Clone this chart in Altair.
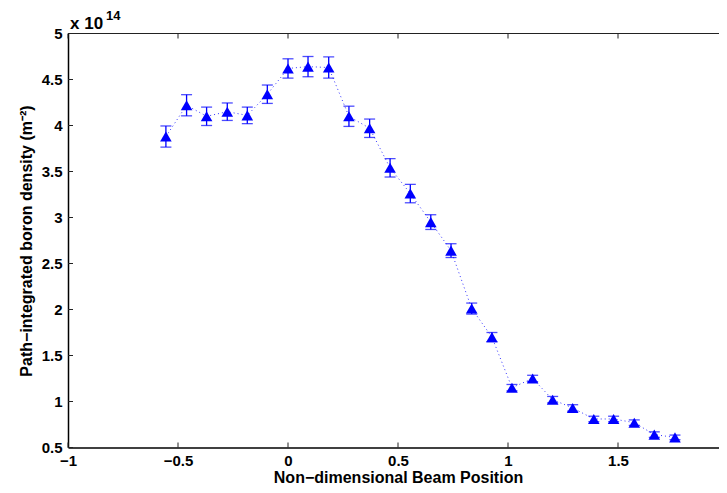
import altair as alt
import pandas as pd

# Data (density in units of 1e14 m^-2)
beam_pos = [-0.555, -0.461, -0.370, -0.276, -0.185, -0.094, 0.000, 0.091, 0.185,
            0.277, 0.371, 0.464, 0.556, 0.649, 0.741, 0.835, 0.927, 1.018, 1.112,
            1.203, 1.294, 1.390, 1.480, 1.574, 1.665, 1.759]
density = [3.88, 4.22, 4.10, 4.15, 4.11, 4.34, 4.62, 4.64, 4.63, 4.10, 3.97, 3.54,
           3.26, 2.95, 2.64, 2.01, 1.70, 1.15, 1.25, 1.02, 0.93, 0.81, 0.81, 0.77,
           0.64, 0.61]
err = [0.115, 0.115, 0.10, 0.095, 0.09, 0.10, 0.105, 0.11, 0.115, 0.11, 0.10, 0.10,
       0.10, 0.08, 0.075, 0.06, 0.05, 0.035, 0.035, 0.035, 0.035, 0.03, 0.03, 0.03,
       0.03, 0.025]
x_ticks = [-1, -0.5, 0, 0.5, 1, 1.5, 2]
y_ticks = [0.5, 1, 1.5, 2, 2.5, 3, 3.5, 4, 4.5, 5]

W, H = 660, 414
FONT = "Liberation Sans"
BLUE = "#0000FF"

df = pd.DataFrame({"x": beam_pos, "y": density, "e": err})
df["lo"] = df["y"] - df["e"]
df["hi"] = df["y"] + df["e"]

xs = alt.Scale(domain=[-1, 2], nice=False, zero=False)
ys = alt.Scale(domain=[0.5, 5], nice=False, zero=False)

base = alt.Chart(df)

line = base.mark_line(color=BLUE, strokeDash=[1, 3], strokeWidth=1, opacity=0.8).encode(
    x=alt.X("x:Q", scale=xs,
            axis=alt.Axis(values=x_ticks, format="~g", ticks=False, grid=False,
                          labelFlush=False, labelOverlap=False, labelPadding=6,
                          title="Non\u2212dimensional Beam Position",
                          titleBaseline="alphabetic", titleY=35,
                          domainColor="black", domainWidth=1.5)),
    y=alt.Y("y:Q", scale=ys,
            axis=alt.Axis(values=y_ticks, format="~g", ticks=False, grid=False,
                          labelFlush=False, labelOverlap=False, labelPadding=6,
                          title="Path\u2212integrated boron density (m\u207b\u00b2)",
                          titleBaseline="alphabetic", titleX=-37,
                          domainColor="black", domainWidth=1.5)),
)

ebar = base.mark_rule(color=BLUE, strokeWidth=1.3).encode(
    x="x:Q", y="lo:Q", y2="hi:Q")
cap_lo = base.mark_tick(color=BLUE, orient="horizontal", size=11, thickness=1.3).encode(
    x="x:Q", y="lo:Q")
cap_hi = base.mark_tick(color=BLUE, orient="horizontal", size=11, thickness=1.3).encode(
    x="x:Q", y="hi:Q")
pts = base.mark_point(shape="triangle-up", filled=True, color=BLUE, opacity=1, size=135).encode(
    x="x:Q", y="y:Q")

xt = alt.Chart(pd.DataFrame({"t": x_ticks}))
yt = alt.Chart(pd.DataFrame({"t": y_ticks}))
tick_style = dict(color="#222222", strokeWidth=1)
xt_bot = xt.mark_rule(**tick_style).encode(x=alt.X("t:Q", scale=xs), y=alt.value(H), y2=alt.value(H - 5))
xt_top = xt.mark_rule(**tick_style).encode(x=alt.X("t:Q", scale=xs), y=alt.value(0), y2=alt.value(5))
yt_left = yt.mark_rule(**tick_style).encode(y=alt.Y("t:Q", scale=ys), x=alt.value(0), x2=alt.value(5))
yt_right = yt.mark_rule(**tick_style).encode(y=alt.Y("t:Q", scale=ys), x=alt.value(W), x2=alt.value(W - 5))

top_border = alt.Chart(pd.DataFrame({"a": [0]})).mark_rule(color="#222222", strokeWidth=1).encode(
    x=alt.value(0), x2=alt.value(W), y=alt.value(0))

exp_main = alt.Chart(pd.DataFrame({"t": ["x 10"]})).mark_text(
    font=FONT, fontWeight="bold", fontSize=17, align="left", baseline="alphabetic",
    color="black").encode(text="t:N", x=alt.value(2), y=alt.value(-5))
exp_sup = alt.Chart(pd.DataFrame({"t": ["14"]})).mark_text(
    font=FONT, fontWeight="bold", fontSize=13, align="left", baseline="alphabetic",
    color="black").encode(text="t:N", x=alt.value(38), y=alt.value(-14))

chart = alt.layer(line, ebar, cap_lo, cap_hi, pts, xt_bot, xt_top, yt_left, yt_right,
                  top_border, exp_main, exp_sup).properties(
    width=W, height=H,
    autosize=alt.AutoSizeParams(type="none"),
    padding={"left": 60, "top": 25.5, "right": -9, "bottom": 37.5},
).configure_view(stroke=None).configure_axis(
    labelFont=FONT, labelFontWeight="bold", labelFontSize=15, labelColor="black",
    titleFont=FONT, titleFontWeight="bold", titleFontSize=16, titleColor="black",
)

chart.save("out.html", embed_options={"renderer": "svg", "actions": False})
